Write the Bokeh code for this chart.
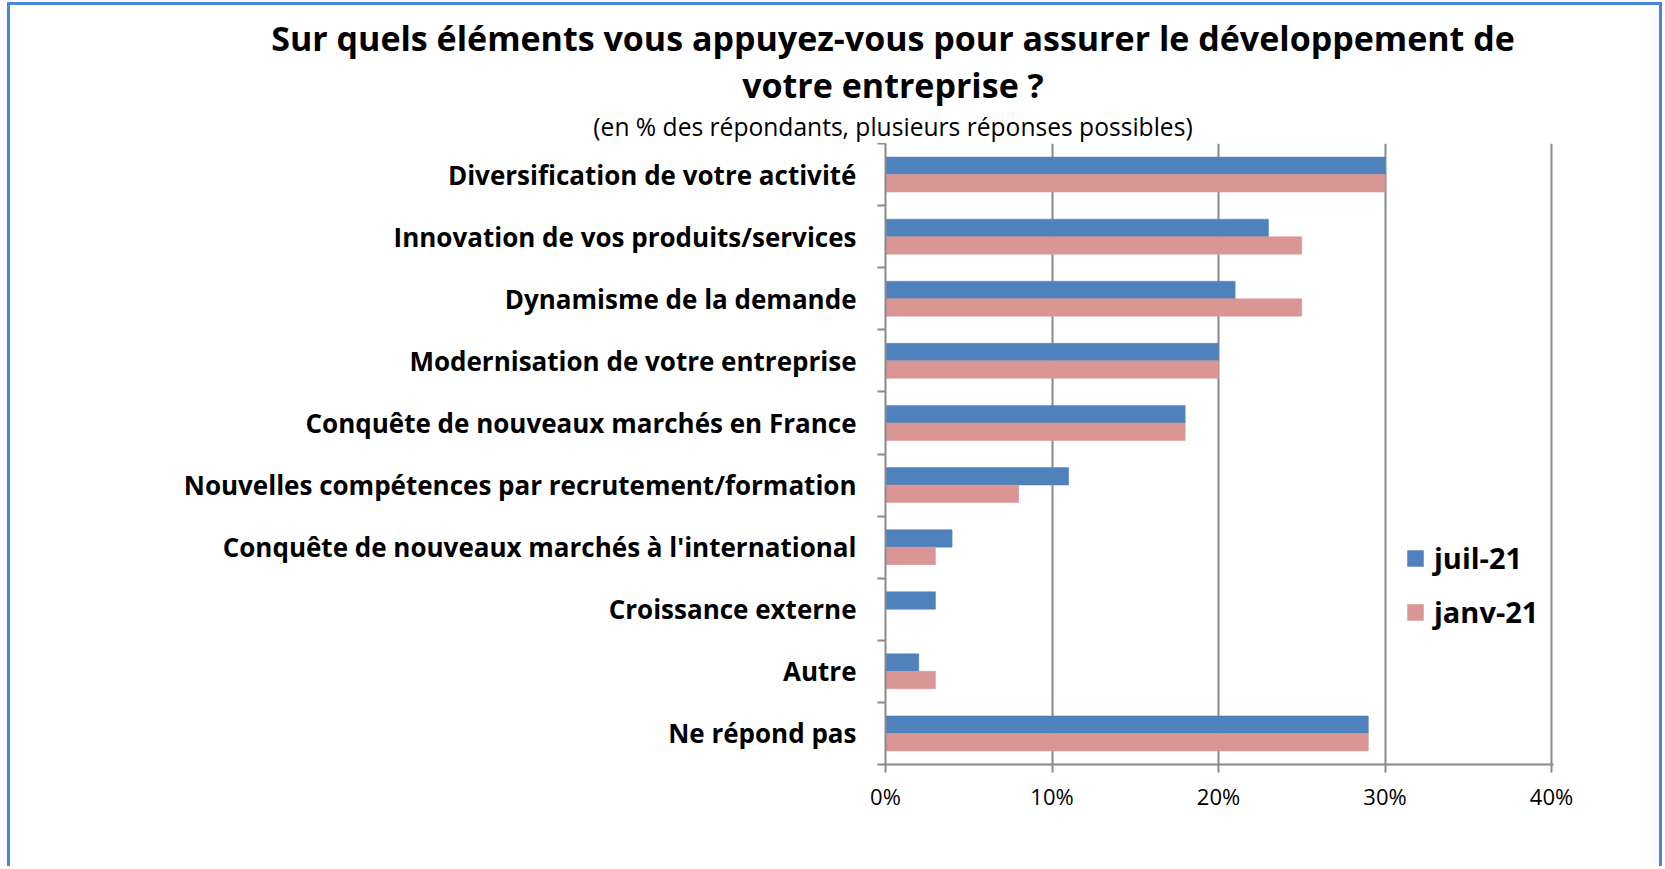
from bokeh.plotting import figure
from bokeh.layouts import column
from bokeh.models import (ColumnDataSource, Range1d, LinearAxis, Div,
                          FixedTicker, PrintfTickFormatter, Legend, LegendItem)
from bokeh.transform import dodge
from bokeh.embed import file_html
from bokeh.resources import INLINE

categories = [
    "Diversification de votre activité",
    "Innovation de vos produits/services",
    "Dynamisme de la demande",
    "Modernisation de votre entreprise",
    "Conquête de nouveaux marchés en France",
    "Nouvelles compétences par recrutement/formation",
    "Conquête de nouveaux marchés à l'international",
    "Croissance externe",
    "Autre",
    "Ne répond pas",
]
juil_21 = [30, 23, 21, 20, 18, 11, 4, 3, 2, 29]
janv_21 = [30, 25, 25, 20, 18, 8, 3, 0, 3, 29]
series_names = ["juil-21", "janv-21"]
x_ticks = [0, 10, 20, 30, 40]
title_lines = ["Sur quels éléments vous appuyez-vous pour assurer le développement de",
               "votre entreprise ?"]
subtitle = "(en % des répondants, plusieurs réponses possibles)"

BLUE = "#4F81BD"
PINK = "#D99694"
GRID = "#898989"
FONT = "Open Sans"
BORDER = "#4A86D8"

OX, OY = 10, 5            # page offset of content (margin + border)
W = 1649
HH = 138                  # header height
CH = 723                  # chart height
FL, FT, FW, FH = 885 - OX, 0, 668, 621

# ---------------- header (titles) ----------------
def line_div(txt, cy, size, bold, lh):
    return (f'<div style="position:absolute;left:{883 - 700}px;top:{cy - lh // 2}px;'
            f'width:1400px;text-align:center;font-family:\'{FONT}\';'
            f'font-weight:{"bold" if bold else "normal"};font-size:{size}px;'
            f'line-height:{lh}px;color:black;white-space:nowrap">{txt}</div>')

header_html = (f'<div style="position:relative;width:{W}px;height:{HH}px">'
               + line_div(title_lines[0], 38 - OY, 34, True, 40)
               + line_div(title_lines[1], 85 - OY, 34, True, 40)
               + line_div(subtitle, 127 - OY, 24.6, False, 30)
               + '</div>')
hd = Div(text=header_html, width=W, height=HH, margin=0)

# ---------------- chart ----------------
n = len(categories)
ypos = [n - i - 0.5 for i in range(n)]  # category slot centres, first on top
src = ColumnDataSource(dict(y=ypos, juil=juil_21, janv=janv_21))

p = figure(width=W, height=CH, output_backend="svg", toolbar_location=None,
           y_range=Range1d(0, n), x_range=Range1d(x_ticks[0], x_ticks[-1] + 0.12),
           min_border_left=FL, min_border_top=FT,
           min_border_right=W - FL - FW, min_border_bottom=CH - FT - FH)
p.outline_line_color = None
p.background_fill_color = "white"
p.border_fill_color = "white"

bh = 0.282
r1 = p.hbar(y=dodge("y", bh / 2), left=0, right="juil", height=bh,
            source=src, fill_color=BLUE, line_color=BLUE, line_width=0.5)
r2 = p.hbar(y=dodge("y", -bh / 2), left=0, right="janv", height=bh,
            source=src, fill_color=PINK, line_color=PINK, line_width=0.5)

# x axis
xa = p.xaxis[0]
xa.ticker = FixedTicker(ticks=x_ticks)
xa.formatter = PrintfTickFormatter(format="%d%%")
xa.axis_line_color = GRID
xa.axis_line_width = 2
xa.major_tick_line_color = GRID
xa.major_tick_line_width = 2
xa.major_tick_out = 8
xa.major_tick_in = 0
xa.minor_tick_line_color = None
xa.major_label_text_font = FONT
xa.major_label_text_font_size = "22px"
xa.major_label_text_color = "black"
xa.major_label_standoff = 8

p.xgrid.ticker = FixedTicker(ticks=x_ticks)
p.xgrid.grid_line_color = GRID
p.xgrid.grid_line_width = 2
p.ygrid.grid_line_color = None

# boundary ticks axis (next to frame)
ta = p.yaxis[0]
ta.ticker = FixedTicker(ticks=list(range(n + 1)))
ta.axis_line_color = GRID
ta.axis_line_width = 2
ta.major_tick_line_color = GRID
ta.major_tick_line_width = 2
ta.major_tick_out = 8
ta.major_tick_in = 0
ta.minor_tick_line_color = None
ta.major_label_text_font_size = "0px"
ta.major_label_text_color = None
ta.major_label_standoff = 0

# category label axis
ca = LinearAxis(ticker=FixedTicker(ticks=ypos),
                major_label_overrides={y: c for y, c in zip(ypos, categories)})
ca.axis_line_color = None
ca.major_tick_line_color = None
ca.minor_tick_line_color = None
ca.major_label_text_font = FONT
ca.major_label_text_font_style = "bold"
ca.major_label_text_font_size = "26px"
ca.major_label_text_color = "black"
ca.major_label_standoff = 15
p.add_layout(ca, "left")

# legend
leg = Legend(items=[LegendItem(label=series_names[0], renderers=[r1]),
                    LegendItem(label=series_names[1], renderers=[r2])],
             location=(520, 133), padding=0, margin=0, border_line_color=None,
             background_fill_alpha=0, glyph_width=20, glyph_height=20,
             label_height=32, spacing=15, label_standoff=9,
             label_text_font=FONT, label_text_font_style="bold",
             label_text_font_size="29px", label_text_color="black")
p.add_layout(leg, "center")

layout = column(hd, p, spacing=0,
                styles={"border-left": f"3px solid {BORDER}",
                        "border-right": f"3px solid {BORDER}",
                        "border-top": f"3px solid {BORDER}",
                        "margin-left": "7px", "margin-top": "2px"})

open("out.html", "w").write(file_html(layout, INLINE))
